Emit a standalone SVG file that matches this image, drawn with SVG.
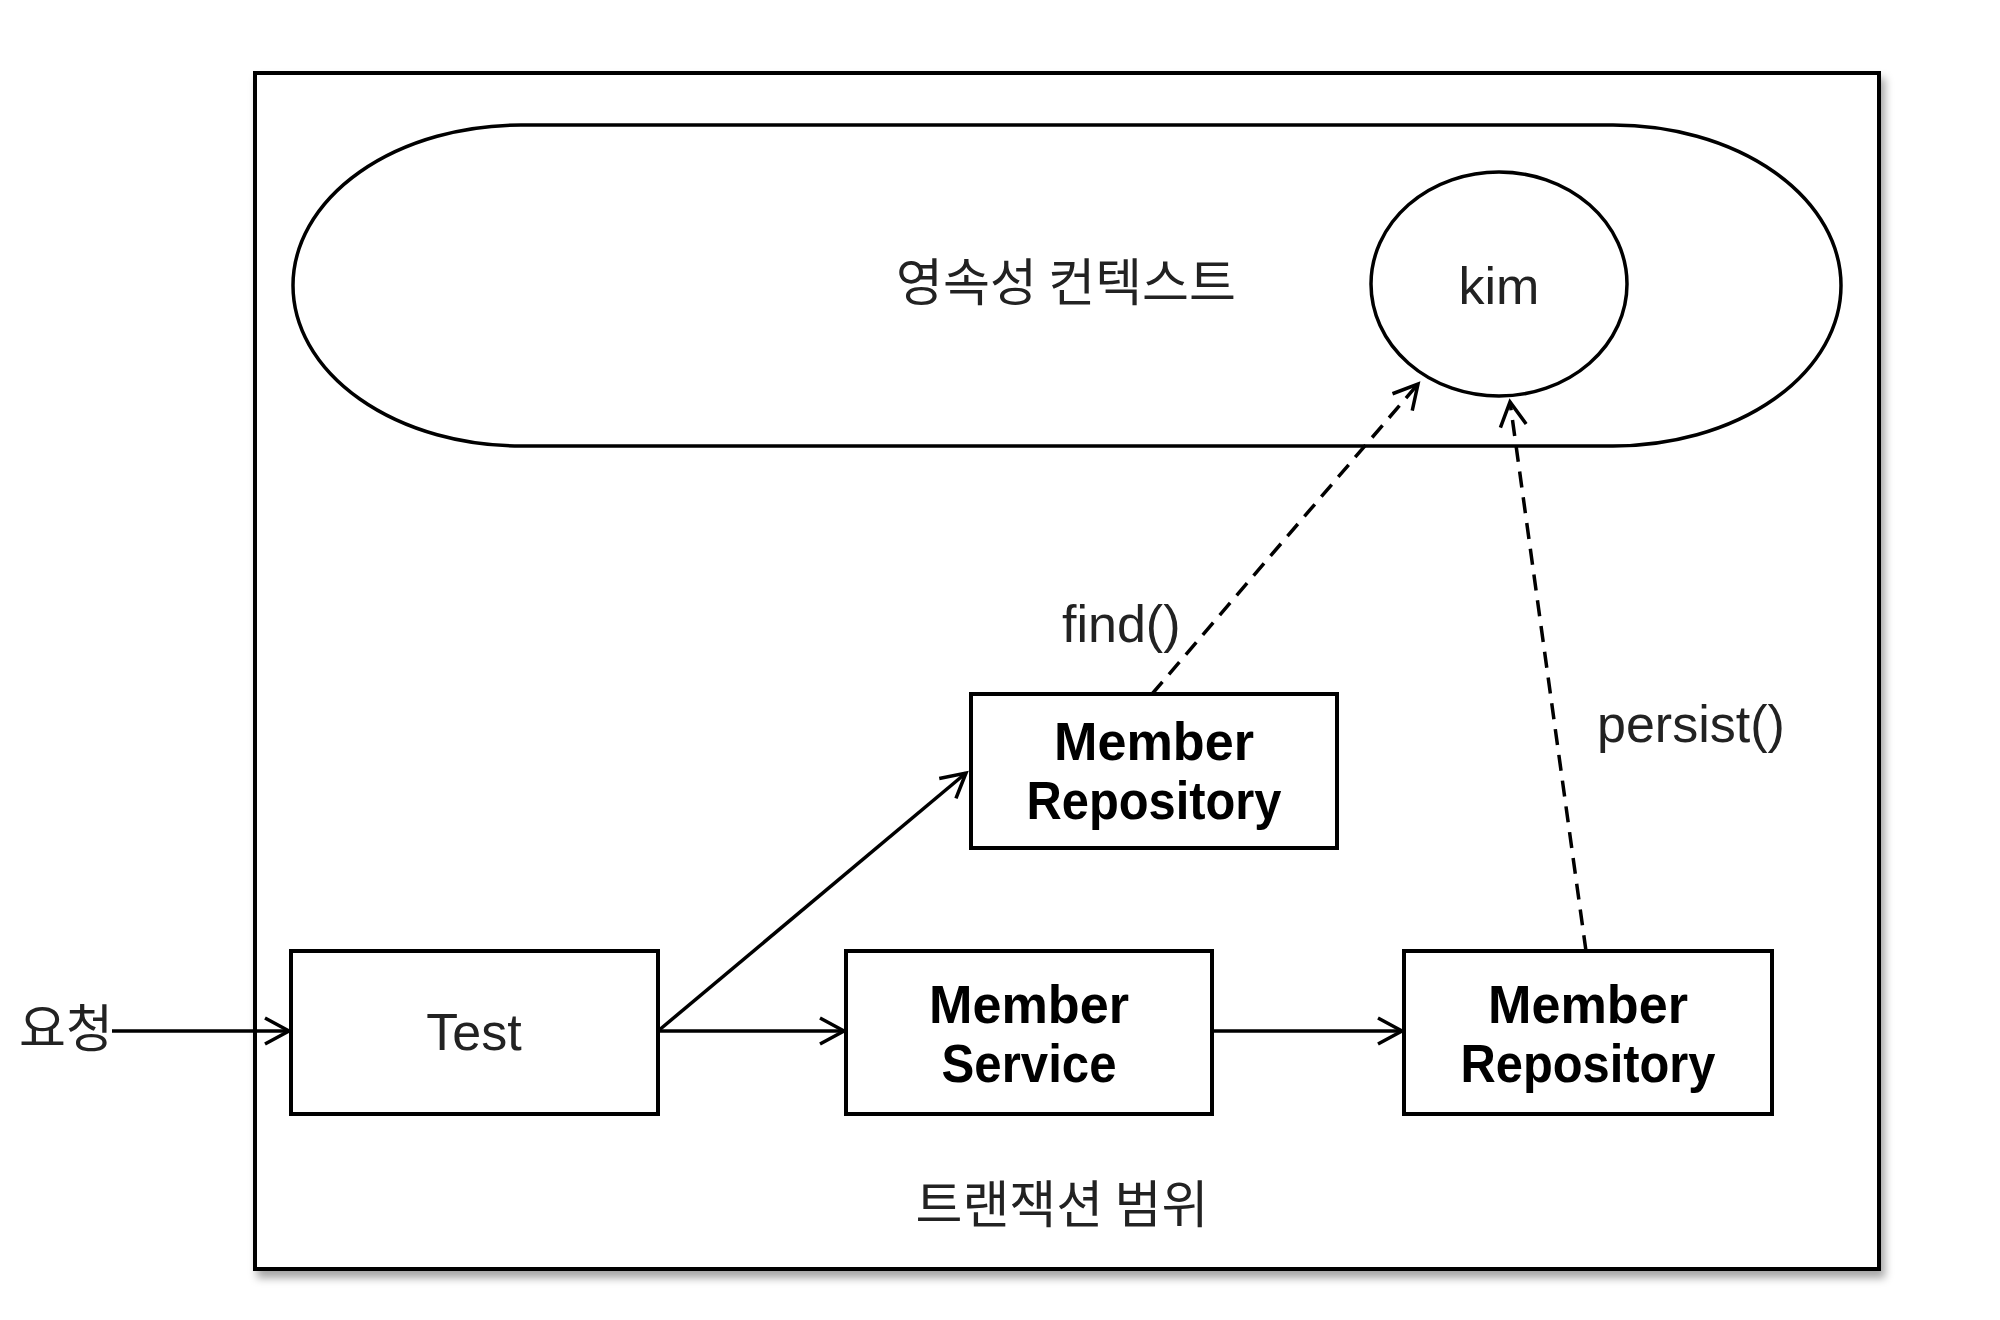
<svg xmlns="http://www.w3.org/2000/svg" width="2000" height="1320" viewBox="0 0 2000 1320">
<style>
.box{fill:#fff;stroke:#000;stroke-width:4}
.line{fill:none;stroke:#000;stroke-width:3.5}
.dash{fill:none;stroke:#000;stroke-width:3.5;stroke-dasharray:16 10}
.ko{font-family:"Noto Sans CJK KR","Noto Sans",sans-serif;font-size:51px;fill:#222}
.lat{font-family:"Liberation Sans",Arial,sans-serif;font-size:52px;fill:#222}
.bold{font-family:"Liberation Sans",Arial,sans-serif;font-size:54px;font-weight:bold;fill:#000;text-anchor:middle}
</style>
<defs>
<marker id="arr" markerUnits="userSpaceOnUse" viewBox="-28 -18 32 36" refX="0" refY="0" markerWidth="32" markerHeight="36" orient="auto">
<path d="M-24,-13 L0,0 L-24,13" fill="none" stroke="#000" stroke-width="3.5"/>
</marker>
<filter id="shadow" x="-5%" y="-5%" width="112%" height="115%">
<feDropShadow dx="4" dy="7" stdDeviation="4" flood-color="#000" flood-opacity="0.35"/>
</filter>
</defs>
<rect width="2000" height="1320" fill="#fff"/>
<g id="scope">
<rect x="255" y="73" width="1624" height="1196" fill="#fff" stroke="#000" stroke-width="4" filter="url(#shadow)"/>
<text class="ko" x="1062" y="1223" text-anchor="middle">트랜잭션 범위</text>
</g>
<g id="context">
<rect x="293" y="125" width="1548" height="321" rx="228" ry="160.5" class="line"/>
<text class="ko" x="1066" y="301" text-anchor="middle">영속성 컨텍스트</text>
</g>
<g id="kim">
<ellipse cx="1499" cy="284" rx="128" ry="112" class="line"/>
<text class="lat" x="1499" y="304" text-anchor="middle">kim</text>
</g>
<g id="request">
<text class="ko" x="19" y="1047">요청</text>
</g>
<g id="test">
<rect x="291" y="951" width="367" height="163" class="box"/>
<text class="lat" x="474" y="1050" text-anchor="middle">Test</text>
</g>
<g id="repo-top">
<rect x="971" y="694" width="366" height="154" class="box"/>
<text class="bold" x="1154" y="760" textLength="200" lengthAdjust="spacingAndGlyphs">Member</text>
<text class="bold" x="1154" y="819" textLength="255" lengthAdjust="spacingAndGlyphs">Repository</text>
</g>
<g id="service">
<rect x="846" y="951" width="366" height="163" class="box"/>
<text class="bold" x="1029" y="1023" textLength="200" lengthAdjust="spacingAndGlyphs">Member</text>
<text class="bold" x="1029" y="1082" textLength="175" lengthAdjust="spacingAndGlyphs">Service</text>
</g>
<g id="repo-bottom">
<rect x="1404" y="951" width="368" height="163" class="box"/>
<text class="bold" x="1588" y="1023" textLength="200" lengthAdjust="spacingAndGlyphs">Member</text>
<text class="bold" x="1588" y="1082" textLength="255" lengthAdjust="spacingAndGlyphs">Repository</text>
</g>
<g id="connectors">
<line x1="112" y1="1031" x2="289" y2="1031" class="line" marker-end="url(#arr)"/>
<line x1="658" y1="1031" x2="844" y2="1031" class="line" marker-end="url(#arr)"/>
<line x1="658" y1="1031" x2="966" y2="773" class="line" marker-end="url(#arr)"/>
<line x1="1212" y1="1031" x2="1402" y2="1031" class="line" marker-end="url(#arr)"/>
<line x1="1152" y1="694" x2="1418" y2="384" class="dash" marker-end="url(#arr)"/>
<line x1="1586" y1="951" x2="1510" y2="402" class="dash" marker-end="url(#arr)"/>
<text class="lat" x="1062" y="642">find()</text>
<text class="lat" x="1597" y="742">persist()</text>
</g>
</svg>
